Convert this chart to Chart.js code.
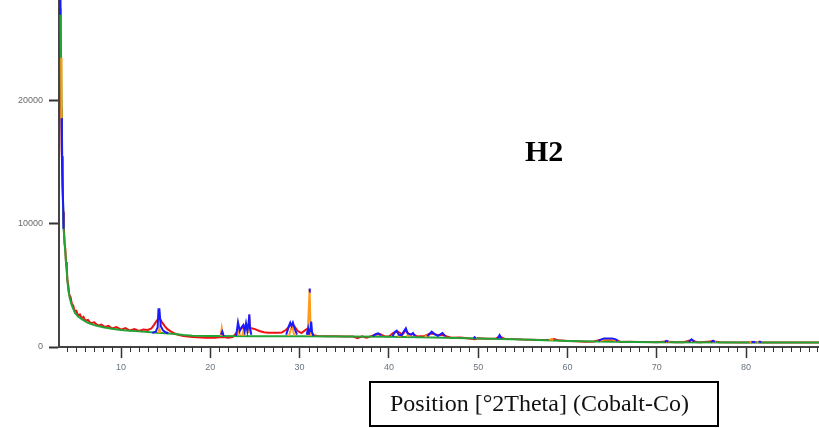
<!DOCTYPE html>
<html>
<head>
<meta charset="utf-8">
<script src="https://cdn.jsdelivr.net/npm/chart.js@4.4.1/dist/chart.umd.min.js"></script>
<style>
  html, body { margin: 0; padding: 0; background: #fff; }
  #wrap { position: relative; width: 819px; height: 428px; overflow: hidden; }
  #label {
    position: absolute; left: 525px; top: 134px;
    font: bold 30px "Liberation Serif", "Times New Roman", serif; color: #000;
  }
  #axisTitle {
    position: absolute; left: 369px; top: 381px; width: 350px; height: 46px;
    border: 2px solid #000; box-sizing: border-box;
    font: 24px "Liberation Serif", "Times New Roman", serif; color: #111;
    line-height: 40px; padding-left: 19px; white-space: nowrap;
  }
</style>
</head>
<body>
<div id="wrap">
  <canvas id="xrd" width="819" height="428"></canvas>
  <div id="label">H2</div>
  <div id="axisTitle">Position [°2Theta] (Cobalt-Co)</div>
</div>
<script>
// observed pattern (red)
const obsTheta = [3.12, 3.18, 3.24, 3.30, 3.36, 3.44, 3.52, 3.60, 3.68, 3.76, 3.84, 3.92, 4.0, 4.1, 4.2, 4.35,
  4.5, 4.65, 4.8, 5.0, 5.2, 5.4, 5.6, 5.8, 6.0, 6.3, 6.6, 7.0, 7.4, 7.8, 8.2, 8.6, 9.0, 9.5, 10.0, 10.5,
  11.0, 11.5, 12.0, 12.5, 13.0, 13.4, 13.7, 14.0, 14.3, 14.6, 14.9, 15.2, 15.6, 16.0, 16.5, 17.0, 17.5,
  18.0, 18.5, 19.0, 19.5, 20.0, 20.5, 21.0, 21.5, 22.0, 22.5, 23.0, 23.5, 24.0, 24.5, 25.0, 25.5, 26.0,
  26.5, 27.0, 27.5, 28.0, 28.5, 29.0, 29.4, 29.8, 30.2, 30.6, 30.9, 31.3, 31.6, 32.0, 33, 34, 35, 36,
  36.5, 37, 37.5, 38, 38.5, 39, 39.5, 40, 40.5, 41, 41.5, 41.9, 42.3, 42.7, 43.2, 44, 44.5, 45, 45.5,
  46, 46.5, 47, 48, 49, 49.6, 50, 51, 52, 52.4, 53, 54, 55, 56, 57, 58, 58.5, 59, 60, 61, 62, 63, 63.6,
  64.5, 65.5, 66, 67, 68, 69, 70, 71, 72, 73, 73.9, 74.5, 75, 76.3, 77, 80, 81, 82, 88.2];
const obsCounts = [34000, 27500, 22000, 19400, 16000, 13900, 11000, 9700, 8400, 8000, 6900, 6500, 5400, 5000,
  4250, 4050, 3500, 3350, 2950, 2950, 2550, 2650, 2320, 2450, 2130, 2200, 1930, 2000, 1740, 1830, 1620,
  1720, 1500, 1620, 1410, 1530, 1340, 1460, 1300, 1420, 1380, 1500, 1800, 2150, 2350, 2000, 1700, 1450,
  1250, 1100, 980, 900, 850, 820, 790, 780, 760, 780, 750, 800, 820, 760, 800, 1200, 1550, 1600, 1550,
  1450, 1300, 1200, 1160, 1160, 1160, 1170, 1400, 1800, 1700, 1300, 1130, 1350, 1500, 1200, 950, 900,
  870, 880, 860, 850, 720, 860, 760, 870, 1000, 1050, 880, 850, 1150, 1250, 1000, 1350, 1000, 1050, 850,
  900, 1050, 1100, 950, 1000, 860, 760, 780, 700, 640, 710, 680, 700, 850, 650, 640, 600, 590, 570, 560,
  640, 540, 490, 460, 430, 440, 560, 580, 560, 400, 420, 410, 400, 390, 450, 390, 390, 560, 390, 385,
  470, 380, 375, 400, 375, 370];

// calculated profile (green)
const calcTheta = [3.15, 3.25, 3.33, 3.42, 3.50, 3.58, 3.68, 3.76, 3.84, 3.92, 4.0, 4.1, 4.25, 4.48, 4.85,
  5.2, 5.6, 6.3, 7, 8, 9, 10, 11, 12, 13, 14, 15, 16, 17, 18, 20, 25, 30, 35, 40, 45, 50, 55, 60, 65,
  70, 80, 88.2];
const calcCounts = [34000, 26000, 20500, 15500, 12000, 9500, 8500, 7700, 6900, 6200, 5400, 4650, 4000, 3400,
  2760, 2480, 2270, 1970, 1780, 1600, 1480, 1390, 1330, 1270, 1210, 1150, 1110, 1060, 970, 920, 890, 880,
  870, 860, 840, 780, 700, 600, 490, 420, 390, 375, 370];

// peak sticks (blue), null = break
const blueTheta = [3.17, 3.19, 3.2, 3.36, 3.38, 3.42, 3.55, 3.56, 3.57,
  13.5, 13.9, 14.1, 14.2, 14.3, 14.45, 14.7, 15.0, 15.3, 15.3,
  21.2, 21.35, 21.5, 21.5,
  22.9, 23.1, 23.3, 23.5, 23.7, 23.85, 24.0, 24.15, 24.3, 24.37, 24.45, 24.6, 24.6,
  28.5, 28.8, 28.95, 29.1, 29.25, 29.45, 29.7, 29.7,
  30.8, 30.95, 31.05, 31.05, 31.09, 31.12, 31.15, 31.15, 31.2, 31.3, 31.4, 31.55, 31.55,
  38.2, 38.5, 38.8, 39.1, 39.1,
  40.4, 40.7, 40.87, 41.1, 41.4, 41.7, 41.9, 42.1, 42.5, 42.7, 42.9, 42.9,
  44.3, 44.6, 44.8, 45.1, 45.5, 46.0, 46.3, 46.3,
  49.5, 49.6, 49.7, 49.7, 52.2, 52.4, 52.6, 52.6,
  63.5, 63.8, 64.1, 65.0, 65.4, 65.6, 65.6,
  70.9, 71.1, 71.3, 71.3, 73.6, 73.9, 74.2, 74.2, 76.1, 76.3, 76.5, 76.5,
  80.6, 80.8, 81.0, 81.0, 81.4, 81.55, 81.7];
const blueCounts = [30000, 27000, null, 18600, 16000, 14100, 10800, 9600, null,
  1150, 1250, 1600, 3060, 3060, 1700, 1350, 1200, 1120, null,
  1000, 1250, 900, null,
  900, 2000, 1300, 1600, 1790, 1300, 1920, 1300, 2000, 2650, 1500, 1000, null,
  1000, 1700, 1980, 1700, 1980, 1500, 1000, null,
  1000, 1500, 1000, null, 4500, 4750, 4500, null, 1200, 2060, 1200, 900, null,
  880, 1050, 1110, 950, null,
  880, 1250, 1330, 1000, 950, 1300, 1520, 1100, 1000, 1140, 900, null,
  880, 1100, 1250, 1050, 900, 1140, 880, null,
  720, 800, 720, null, 720, 975, 720, null,
  500, 620, 700, 700, 620, 480, null,
  420, 490, 420, null, 420, 620, 420, null, 400, 510, 400, null,
  380, 430, 380, null, 380, 430, 380];

// peak sticks (orange), null = break
const orangeTheta = [3.30, 3.33, 3.35, 3.35,
  14.2, 14.3, 14.4, 14.4,
  21.15, 21.28, 21.4, 21.4,
  23.0, 23.15, 23.3, 23.3, 23.6, 23.75, 23.9, 23.9, 24.2, 24.37, 24.5, 24.5,
  28.8, 29.05, 29.2, 29.4, 29.4,
  30.9, 31.12, 31.25, 31.25,
  41.0, 41.2, 41.4, 41.4, 42.0, 42.2, 42.4, 42.4, 44.0, 44.3, 44.6, 44.6,
  58.0, 58.2, 58.4, 58.4, 63.6, 64.2, 65.0, 65.6, 65.6,
  71.0, 71.2, 71.4, 71.4, 73.8, 74.0, 74.2, 74.2, 76.2, 76.4, 76.6, 76.6,
  80.4, 80.6, 80.8, 80.8, 81.2, 81.4, 81.6];
const orangeCounts = [23500, 21000, 18500, null,
  1150, 1500, 1150, null,
  900, 1520, 900, null,
  900, 1700, 900, null, 900, 1500, 900, null, 1100, 2550, 1100, null,
  900, 1500, 1650, 900, null,
  900, 4690, 900, null,
  850, 1000, 850, null, 850, 1050, 850, null, 850, 950, 850, null,
  560, 650, 560, null, 500, 600, 600, 500, null,
  400, 470, 400, null, 420, 550, 420, null, 400, 480, 400, null,
  380, 420, 380, null, 380, 420, 380];

const yTicks = [0, 10000, 20000];
const xTicks = [10, 20, 30, 40, 50, 60, 70, 80];

function pts(xs, ys) {
  return xs.map((x, i) => ({ x: x, y: ys[i] }));
}

function line(label, xs, ys, color, order) {
  return {
    label, data: pts(xs, ys), borderColor: color, backgroundColor: color,
    borderWidth: 2, pointRadius: 0, tension: 0, spanGaps: false, order
  };
}

// small 1-degree ticks under the x axis
const minorTicks = {
  id: 'minorTicks',
  afterDraw(chart) {
    const { ctx, scales: { x }, chartArea } = chart;
    ctx.save();
    ctx.strokeStyle = '#333';
    ctx.lineWidth = 1;
    for (let v = 4; v <= 88; v++) {
      if (v % 10 === 0) continue;
      const px = Math.round(x.getPixelForValue(v)) + 0.5;
      ctx.beginPath();
      ctx.moveTo(px, chartArea.bottom);
      ctx.lineTo(px, chartArea.bottom + 5);
      ctx.stroke();
    }
    ctx.restore();
  }
};

const tickFont = { family: '"Liberation Sans", Arial, sans-serif', size: 9 };

new Chart(document.getElementById('xrd'), {
  type: 'line',
  data: {
    datasets: [
      line('blue', blueTheta, blueCounts, '#1a1aff', 0),
      line('orange', orangeTheta, orangeCounts, '#ff9a1a', 1),
      line('calc', calcTheta, calcCounts, '#22a336', 2),
      line('obs', obsTheta, obsCounts, '#ee1111', 3)
    ]
  },
  options: {
    responsive: false,
    animation: false,
    layout: { padding: 0 },
    plugins: { legend: { display: false }, tooltip: { enabled: false } },
    scales: {
      x: {
        type: 'linear',
        min: 3.056,
        max: 88.17,
        afterFit: s => { s.height = 81; s.paddingLeft = 0; s.paddingRight = 0; },
        afterBuildTicks: s => { s.ticks = xTicks.map(v => ({ value: v })); },
        grid: { drawOnChartArea: false, tickLength: 11, tickColor: '#333', tickWidth: 1.5 },
        border: { color: '#444', width: 2 },
        ticks: { font: tickFont, color: '#6a7580', padding: 4, maxRotation: 0 }
      },
      y: {
        min: 0,
        max: 28200,
        afterFit: s => { s.width = 59; s.paddingTop = 0; s.paddingBottom = 0; },
        afterBuildTicks: s => { s.ticks = yTicks.map(v => ({ value: v })); },
        grid: { drawOnChartArea: false, tickLength: 10, tickColor: '#333', tickWidth: 2 },
        border: { color: '#444', width: 2 },
        ticks: { font: tickFont, color: '#6a6a6a', padding: 6, callback: v => String(v) }
      }
    }
  },
  plugins: [minorTicks]
});
</script>
</body>
</html>
